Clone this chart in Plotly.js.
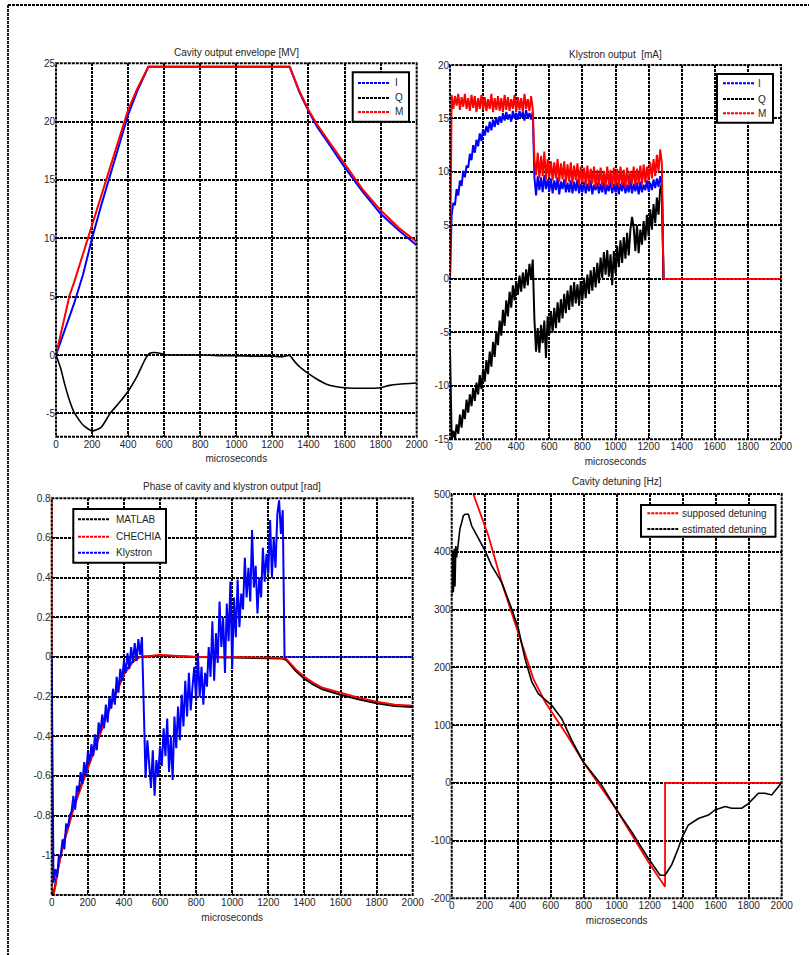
<!DOCTYPE html>
<html>
<head>
<meta charset="utf-8">
<script src="https://cdn.plot.ly/plotly-3.0.1.min.js"></script>
<style>html,body{margin:0;padding:0;background:#fff;}#chart{width:809px;height:955px;}</style>
</head>
<body>
<div id="chart"></div>
<script>
// ---------------- DATA ----------------
// Axis ticks
const xTicks = [0,200,400,600,800,1000,1200,1400,1600,1800,2000];
const xLabels = ['0','200','400','600','800','1000','1200','1400','1600','1800','2000'];
const y1Ticks = [-5,0,5,10,15,20,25];
const y1Labels = ['-5','0','5','10','15','20','25'];
const y2Ticks = [-15,-10,-5,0,5,10,15,20];
const y2Labels = ['-15','-10','-5','0','5','10','15','20'];
const y3Ticks = [-1,-0.8,-0.6,-0.4,-0.2,0,0.2,0.4,0.6,0.8];
const y3Labels = ['-1','-0.8','-0.6','-0.4','-0.2','0','0.2','0.4','0.6','0.8'];
const y4Ticks = [-200,-100,0,100,200,300,400,500];
const y4Labels = ['-200','-100','0','100','200','300','400','500'];

// Panel 1: Cavity output envelope [MV]
const envT = [0,25,50,75,100,150,200,250,300,350,400,450,490,512,1296,1350,1400,1450,1500,1600,1700,1800,1900,2000];
const envI = [0,1.1,2.2,3.3,4.4,6.9,10.0,12.8,15.4,18.1,20.6,22.6,24.0,24.7,24.7,22.5,20.9,19.5,18.4,16.1,14.0,12.1,10.7,9.4];
const envM = [0,1.7,3.4,5.1,6.2,8.7,11.1,13.6,16.0,18.7,21.0,22.8,24.0,24.7,24.7,22.6,21.0,19.7,18.6,16.4,14.2,12.4,10.9,9.7];
const envQT = [0,25,50,75,100,150,200,250,300,350,400,450,500,520,560,600,700,800,900,1000,1100,1200,1250,1296,1320,1350,1400,1450,1500,1550,1600,1700,1800,1850,1900,2000];
const envQ = [0,-1.1,-2.6,-3.9,-4.9,-6.0,-6.5,-6.2,-5.0,-4.1,-3.1,-1.8,-0.2,0.15,0.2,0.05,0,0,-0.05,-0.05,-0.1,-0.1,-0.15,-0.05,-0.5,-1.0,-1.6,-2.1,-2.5,-2.7,-2.8,-2.85,-2.8,-2.6,-2.5,-2.4];

// Panel 2: Klystron output [mA]  (samples every 10 us from 0 to 1290 us)
const klyI = [0,
 6.0,7.1,6.9,8.4,7.8,9.2,8.7,10.1,9.5,10.6,
 10.4,11.7,11.1,12.5,11.8,13.0,12.4,13.6,12.9,14.0,
 13.4,14.3,13.7,14.7,13.9,14.9,14.2,15.1,14.4,15.2,
 14.6,15.5,14.8,15.6,14.9,15.4,14.7,15.7,15.0,15.5,
 14.9,15.7,15.1,15.6,14.8,15.8,15.0,15.5,14.9,15.6,
 9.5,
 7.8,9.6,8.3,9.5,8.1,9.7,8.4,9.3,8.2,
 9.4,8.0,9.2,8.3,9.5,7.9,9.1,8.4,9.3,8.1,
 9.0,8.1,9.2,8.0,9.1,8.2,9.3,8.0,8.9,8.1,
 9.1,8.0,8.9,8.2,9.2,7.9,8.8,8.3,9.0,8.0,
 8.9,8.1,9.1,7.9,8.8,8.2,9.2,8.0,8.9,8.1,
 9.0,7.9,8.9,8.2,9.1,8.0,8.8,8.1,9.2,8.0,
 8.9,8.2,9.0,7.9,9.1,8.1,8.8,8.3,9.2,8.2,
 9.0,8.3,9.3,8.5,9.4,8.6,9.6,8.8,
 0];
const klyQ = [-6.5,
 -15.0,-14.2,-15.0,-13.6,-14.5,-12.7,-13.9,-12.2,-13.1,-11.3,
 -12.5,-10.8,-11.9,-10.2,-11.4,-9.7,-10.8,-9.0,-10.3,-8.4,
 -9.6,-7.6,-8.9,-6.8,-8.2,-5.9,-7.3,-4.9,-6.2,-3.9,
 -5.3,-2.9,-4.4,-2.0,-3.5,-1.2,-2.7,-0.6,-2.0,-0.2,
 -1.5,0.3,-1.2,0.6,-0.9,0.9,-0.6,1.4,0.0,1.8,
 -3.8,
 -6.8,-4.6,-6.9,-4.3,-6.0,-3.9,-7.4,-3.5,-5.2,
 -3.0,-5.0,-2.7,-4.6,-2.2,-4.1,-1.9,-3.7,-1.4,-3.2,
 -1.1,-2.9,-0.6,-2.6,-0.3,-2.3,-0.5,-2.5,-0.2,-2.0,
 0.1,-1.8,0.4,-1.4,0.8,-1.1,1.1,-0.8,1.5,-0.4,
 2.0,0.1,2.5,0.4,2.7,0.2,2.3,-0.6,2.6,0.5,
 3.1,1.1,3.6,1.5,3.9,1.9,4.3,2.2,4.6,5.8,
 4.8,2.6,5.0,2.4,4.6,3.2,5.4,3.6,6.0,4.0,
 6.5,4.6,7.0,5.2,7.6,6.0,8.4,8.9,
 0];
const klyM = [0,
 17.2,15.9,17.1,16.2,17.3,15.8,17.0,16.1,17.3,15.9,
 16.9,15.7,17.2,16.0,17.1,15.6,16.9,15.9,17.2,15.8,
 17.0,15.7,16.8,15.9,17.3,15.6,16.9,15.8,17.1,15.7,
 16.9,15.6,17.2,15.8,17.0,15.7,16.8,15.9,17.2,15.6,
 17.0,15.8,16.9,15.6,17.3,15.9,16.8,15.7,17.1,15.9,
 11.2,
 9.7,11.8,9.4,11.5,9.6,11.9,9.3,11.2,9.5,
 11.0,9.2,10.9,9.4,11.2,9.1,10.8,9.3,11.0,9.0,
 10.7,9.1,10.9,8.9,10.6,9.2,10.8,8.8,10.5,9.0,
 10.4,8.8,10.6,8.7,10.3,8.9,10.5,8.6,10.2,8.8,
 10.4,8.7,10.1,8.6,10.5,8.8,10.2,8.5,10.4,8.7,
 10.3,8.6,10.5,8.8,10.2,8.5,10.4,8.7,10.1,8.9,
 10.5,8.7,10.3,8.9,10.6,8.8,10.7,9.0,10.5,9.2,
 10.9,9.4,11.2,9.6,11.6,10.0,12.1,10.8,
 0];
const tailT = [1290,2000];
const tailV = [0,0];

// Panel 3: Phase of cavity and klystron output [rad]
const phT = [0,1,10,20,30,40,50,60,80,100,120,150,200,250,300,350,400,450,490,600,800,1000,1200,1280,1300,1350,1400,1450,1500,1600,1700,1800,1900,2000];
const phMatlab = [-1.2,-1.2,-1.19,-1.15,-1.09,-1.04,-0.98,-0.95,-0.89,-0.82,-0.76,-0.68,-0.55,-0.42,-0.30,-0.19,-0.085,-0.02,0.0,0.008,0.0,-0.002,-0.006,-0.008,-0.015,-0.068,-0.11,-0.14,-0.163,-0.19,-0.213,-0.233,-0.247,-0.252];
const phChechia = [0.8,-1.2,-1.2,-1.16,-1.10,-1.05,-0.99,-0.96,-0.90,-0.83,-0.77,-0.69,-0.56,-0.43,-0.31,-0.20,-0.09,-0.025,0.0,0.01,0.0,0.0,-0.005,-0.005,-0.01,-0.06,-0.10,-0.13,-0.155,-0.18,-0.205,-0.225,-0.24,-0.245];
const phKly = [0,
 -1.14,-1.07,-1.11,-1.00,-1.01,-0.92,-0.97,-0.84,-0.86,-0.80,
 -0.78,-0.70,-0.77,-0.65,-0.68,-0.58,-0.64,-0.53,-0.60,-0.48,
 -0.53,-0.44,-0.50,-0.39,-0.47,-0.33,-0.38,-0.29,-0.36,-0.24,
 -0.33,-0.20,-0.26,-0.16,-0.24,-0.10,-0.18,-0.06,-0.12,-0.02,
 -0.08,0.02,-0.06,0.05,-0.03,0.07,-0.02,0.09,0.01,0.10,
 -0.21,
 -0.61,-0.42,-0.55,-0.66,-0.47,-0.70,-0.52,-0.60,-0.45,
 -0.55,-0.36,-0.50,-0.31,-0.58,-0.40,-0.62,-0.30,-0.46,-0.25,
 -0.42,-0.19,-0.35,-0.12,-0.30,-0.08,-0.27,-0.15,-0.05,-0.22,
 0.02,-0.20,-0.05,-0.24,-0.08,-0.15,0.05,-0.10,0.18,-0.12,
 0.12,-0.03,0.28,0.05,0.20,-0.08,0.27,0.08,0.38,-0.06,
 0.30,0.10,0.39,0.15,0.32,0.24,0.50,0.30,0.45,0.28,
 0.64,0.35,0.46,0.22,0.40,0.30,0.55,0.38,0.52,0.42,
 0.69,0.40,0.60,0.45,0.72,0.79,0.62,0.74,
 0];

// Panel 4: Cavity detuning [Hz]
const detSupT = [131,222,303,384,444,495,566,606,700,798,1000,1192,1293,1293,2000];
const detSupV = [500,428,347,278,226,180,140,123,82,36,-47,-137,-180,0,0];
const detEstT = [0,5,10,15,20,25,30,40,50,61,70,81,101,121,162,202,242,303,364,404,444,485,525,566,606,667,727,798,909,1000,1091,1192,1263,1293,1333,1374,1394,1434,1495,1556,1596,1657,1697,1758,1798,1859,1899,1939,1980,2000];
const detEstV = [324,400,330,405,340,410,390,422,440,451,462,465,465,445,422,402,376,347,301,267,215,175,154,143,134,111,74,36,-4,-47,-85,-131,-160,-160,-142,-113,-96,-73,-62,-56,-47,-41,-44,-44,-36,-18,-18,-21,-7,2];

// ---------------- LAYOUT HELPERS ----------------
const W = 809, H = 955;
const px = x => x / W;
const py = y => 1 - y / H;
const FONT = {family: 'Liberation Sans, Arial, Helvetica, sans-serif', size: 10, color: '#262626'};
const GRID_DASH = '3px,1px';
const BLUE = '#0000ff', RED = '#ff0000', BLACK = '#000000';

function xAxis(x0, x1, anchor) {
  return {domain: [px(x0), px(x1)], range: [0, 2000], anchor: anchor,
    tickmode: 'array', tickvals: xTicks, ticktext: xLabels,
    showgrid: true, gridcolor: BLACK, griddash: GRID_DASH, gridwidth: 2,
    zeroline: false, showline: false, ticks: 'inside', ticklen: 4, tickcolor: BLACK,
    tickfont: FONT, automargin: false,
    title: {text: 'microseconds', font: FONT, standoff: 6}};
}
function yAxis(yTop, yBot, range, vals, labels, anchor) {
  return {domain: [py(yBot), py(yTop)], range: range, anchor: anchor,
    tickmode: 'array', tickvals: vals, ticktext: labels,
    showgrid: true, gridcolor: BLACK, griddash: GRID_DASH, gridwidth: 2,
    zeroline: false, showline: false, ticks: 'inside', ticklen: 4, tickcolor: BLACK,
    tickfont: FONT, automargin: false};
}

const traces = [
  // Panel 1
  {x: envT, y: envI, xaxis: 'x', yaxis: 'y', mode: 'lines', line: {color: BLUE, width: 2}, name: 'I'},
  {x: envQT, y: envQ, xaxis: 'x', yaxis: 'y', mode: 'lines', line: {color: BLACK, width: 1.6, shape: 'spline', smoothing: 0.6}, name: 'Q'},
  {x: envT, y: envM, xaxis: 'x', yaxis: 'y', mode: 'lines', line: {color: RED, width: 2}, name: 'M'},
  // Panel 2
  {x0: 0, dx: 10, y: klyI, xaxis: 'x2', yaxis: 'y2', mode: 'lines', line: {color: BLUE, width: 2}, name: 'I'},
  {x0: 0, dx: 10, y: klyQ, xaxis: 'x2', yaxis: 'y2', mode: 'lines', line: {color: BLACK, width: 2}, name: 'Q'},
  {x0: 0, dx: 10, y: klyM, xaxis: 'x2', yaxis: 'y2', mode: 'lines', line: {color: RED, width: 2}, name: 'M'},
  {x: tailT, y: tailV, xaxis: 'x2', yaxis: 'y2', mode: 'lines', line: {color: RED, width: 1.8}, name: 'M tail'},
  // Panel 3
  {x: phT, y: phMatlab, xaxis: 'x3', yaxis: 'y3', mode: 'lines', line: {color: BLACK, width: 2}, name: 'MATLAB'},
  {x: phT, y: phChechia, xaxis: 'x3', yaxis: 'y3', mode: 'lines', line: {color: RED, width: 1.8}, name: 'CHECHIA'},
  {x0: 0, dx: 10, y: phKly, xaxis: 'x3', yaxis: 'y3', mode: 'lines', line: {color: BLUE, width: 2}, name: 'Klystron'},
  {x: tailT, y: tailV, xaxis: 'x3', yaxis: 'y3', mode: 'lines', line: {color: BLUE, width: 1.6}, name: 'Klystron tail'},
  // Panel 4
  {x: detSupT, y: detSupV, xaxis: 'x4', yaxis: 'y4', mode: 'lines', line: {color: RED, width: 1.8}, name: 'supposed detuning'},
  {x: detEstT, y: detEstV, xaxis: 'x4', yaxis: 'y4', mode: 'lines', line: {color: BLACK, width: 1.6}, name: 'estimated detuning'}
];

// Plot boxes (pixel coords)
const boxes = [
  {x0: 56, x1: 416.7, y0: 63.3, y1: 436.7},
  {x0: 450, x1: 781, y0: 65, y1: 439.3},
  {x0: 51.7, x1: 412.7, y0: 498.3, y1: 895},
  {x0: 451.7, x1: 781.7, y0: 494, y1: 898.3}
];

const shapes = [];
const annotations = [];
// figure border (dotted) top and left
shapes.push({type: 'line', xref: 'paper', yref: 'paper', x0: px(8), x1: px(812), y0: py(5), y1: py(5), line: {color: BLACK, width: 1.8, dash: GRID_DASH}});
shapes.push({type: 'line', xref: 'paper', yref: 'paper', x0: px(8), x1: px(8), y0: py(5), y1: py(960), line: {color: BLACK, width: 1.8, dash: GRID_DASH}});
// axis frames
['x','x2','x3','x4'].forEach((xa, i) => {
  const ya = ['y','y2','y3','y4'][i];
  shapes.push({type: 'rect', xref: xa + ' domain', yref: ya + ' domain', x0: 0, x1: 1, y0: 0, y1: 1,
    line: {color: BLACK, width: 2, dash: GRID_DASH}, layer: 'above'});
});

// titles
const titles = [
  {text: 'Cavity output envelope [MV]', y: 52.5, b: 0},
  {text: 'Klystron output\u00a0 [mA]', y: 54, b: 1},
  {text: 'Phase of cavity and klystron output [rad]', y: 486, b: 2},
  {text: 'Cavity detuning [Hz]', y: 481.5, b: 3}
];
titles.forEach(t => {
  const b = boxes[t.b];
  annotations.push({xref: 'paper', yref: 'paper', x: px((b.x0 + b.x1) / 2), y: py(t.y), xanchor: 'center', yanchor: 'middle',
    text: t.text, showarrow: false, font: FONT});
});

// manual legends (MATLAB style)
function legend(box, items) {
  shapes.push({type: 'rect', xref: 'paper', yref: 'paper', x0: px(box.x0), x1: px(box.x1), y0: py(box.y1), y1: py(box.y0),
    line: {color: BLACK, width: 2}, fillcolor: '#ffffff', layer: 'above'});
  items.forEach(it => {
    shapes.push({type: 'line', xref: 'paper', yref: 'paper', x0: px(box.lx0), x1: px(box.lx1), y0: py(it.y), y1: py(it.y),
      line: {color: it.color, width: 2, dash: '3px,1px'}, layer: 'above'});
    annotations.push({xref: 'paper', yref: 'paper', x: px(box.tx), y: py(it.y), xanchor: 'left', yanchor: 'middle',
      text: it.text, showarrow: false, font: FONT});
  });
}
legend({x0: 352.7, x1: 409, y0: 72.3, y1: 121.7, lx0: 358, lx1: 390, tx: 393},
  [{text: 'I', color: BLUE, y: 83}, {text: 'Q', color: BLACK, y: 98}, {text: 'M', color: RED, y: 112}]);
legend({x0: 717, x1: 773, y0: 74, y1: 122.7, lx0: 723, lx1: 754, tx: 756},
  [{text: 'I', color: BLUE, y: 83.3}, {text: 'Q', color: BLACK, y: 99}, {text: 'M', color: RED, y: 113.3}]);
legend({x0: 73.3, x1: 166, y0: 509, y1: 562.7, lx0: 78, lx1: 110, tx: 113.5},
  [{text: 'MATLAB', color: BLACK, y: 519.3}, {text: 'CHECHIA', color: RED, y: 536.7}, {text: 'Klystron', color: BLUE, y: 552.7}]);
legend({x0: 641, x1: 775.5, y0: 505, y1: 536.7, lx0: 647.3, lx1: 678.3, tx: 680},
  [{text: 'supposed detuning', color: RED, y: 513.3}, {text: 'estimated detuning', color: BLACK, y: 529}]);

const layout = {
  width: W, height: H,
  margin: {l: 0, r: 0, t: 0, b: 0, pad: 0},
  paper_bgcolor: '#ffffff', plot_bgcolor: '#ffffff',
  showlegend: false,
  font: FONT,
  xaxis: xAxis(boxes[0].x0, boxes[0].x1, 'y'),
  yaxis: yAxis(boxes[0].y0, boxes[0].y1, [-7, 25], y1Ticks, y1Labels, 'x'),
  xaxis2: xAxis(boxes[1].x0, boxes[1].x1, 'y2'),
  yaxis2: yAxis(boxes[1].y0, boxes[1].y1, [-15, 20], y2Ticks, y2Labels, 'x2'),
  xaxis3: xAxis(boxes[2].x0, boxes[2].x1, 'y3'),
  yaxis3: yAxis(boxes[2].y0, boxes[2].y1, [-1.2, 0.8], y3Ticks, y3Labels, 'x3'),
  xaxis4: xAxis(boxes[3].x0, boxes[3].x1, 'y4'),
  yaxis4: yAxis(boxes[3].y0, boxes[3].y1, [-200, 500], y4Ticks, y4Labels, 'x4'),
  shapes: shapes,
  annotations: annotations
};

Plotly.newPlot('chart', traces, layout, {staticPlot: true, displayModeBar: false});
</script>
</body>
</html>
